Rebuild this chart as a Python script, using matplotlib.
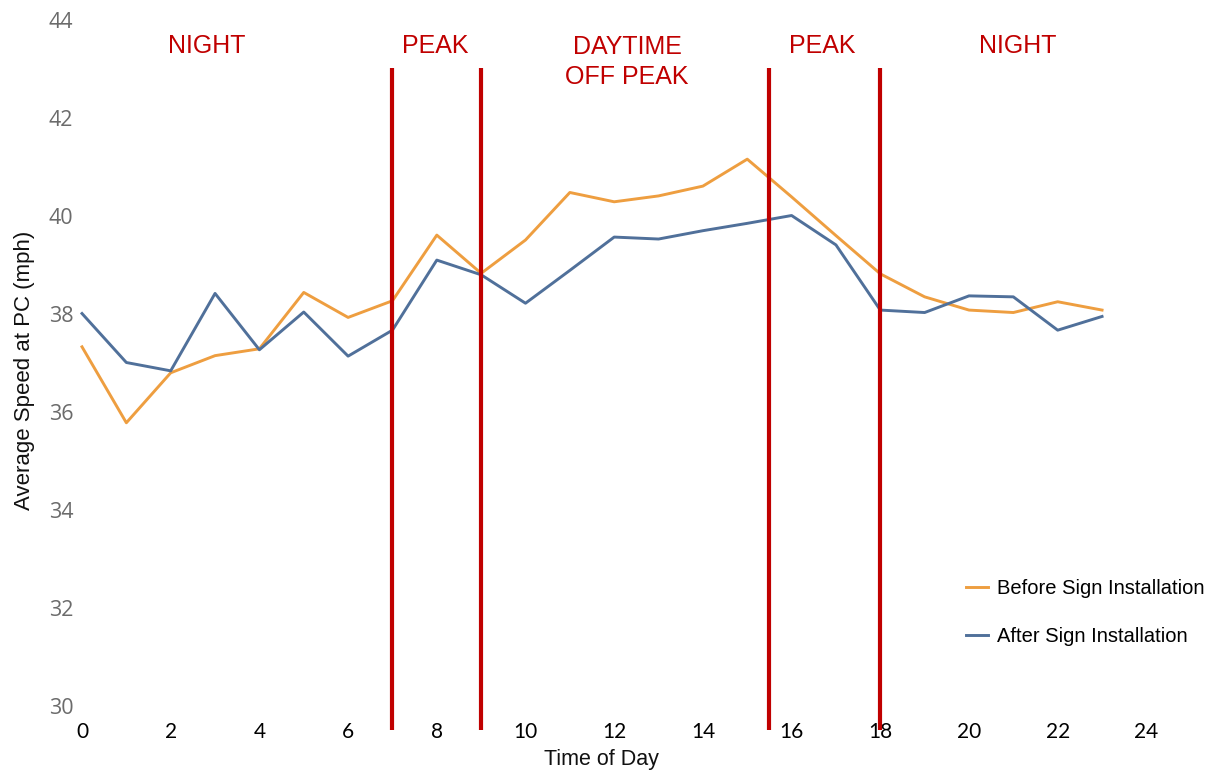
#!/usr/bin/env python3
"""
Average speed at PC by time of day, before / after sign installation.
"""
import matplotlib
matplotlib.use("Agg")
import matplotlib.pyplot as plt

# ── Data ──────────────────────────────────────────────────────────────────
hours = list(range(24))
before_speed = [37.33, 35.78, 36.80, 37.15, 37.29, 38.44, 37.93, 38.27,
                39.61, 38.83, 39.51, 40.48, 40.29, 40.41, 40.61, 41.16,
                40.39, 39.60, 38.82, 38.35, 38.08, 38.03, 38.25, 38.08]
after_speed = [38.01, 37.01, 36.84, 38.42, 37.27, 38.04, 37.14, 37.67,
               39.10, 38.80, 38.22, 38.89, 39.57, 39.53, 39.70, 39.85,
               40.01, 39.41, 38.08, 38.03, 38.37, 38.35, 37.67, 37.95]

period_bounds = [7, 9, 15.5, 18]
period_names = ["NIGHT", "PEAK", "DAYTIME\nOFF PEAK", "PEAK", "NIGHT"]
period_label_x = [2.82, 7.96, 12.29, 16.69, 21.1]

x_ticks = list(range(0, 25, 2))
y_ticks = list(range(30, 45, 2))

series_labels = ["Before Sign Installation", "After Sign Installation"]

# ── Styles ────────────────────────────────────────────────────────────────
ORANGE = "#EE9E40"
SLATE = "#50709A"
RED = "#C00000"

W, H = 1224, 774
fig = plt.figure(figsize=(W / 100, H / 100), dpi=100)
fig.patch.set_facecolor("white")

# axes placed in pixel terms: left 76, right 1200, top 10, bottom 715
ax = fig.add_axes([76 / W, 1 - 715 / H, (1200 - 76) / W, (715 - 10) / H])
ax.set_xlim((76 - 82) / 44.35, (1200 - 82) / 44.35)
ax.set_ylim(44 - 695 / 49, 44 + 10 / 49)

ax.plot(hours, before_speed, color=ORANGE, linewidth=2.1,
        label=series_labels[0], zorder=3)
ax.plot(hours, after_speed, color=SLATE, linewidth=2.1,
        label=series_labels[1], zorder=3)

ax.vlines(period_bounds, 29.51, 43.02, color=RED, linewidth=3.0,
          clip_on=False, zorder=4)

for name, xc in zip(period_names, period_label_x):
    ax.text(xc, 43.47 if "\n" not in name else 43.15, name,
            ha="center", va="center", color=RED, fontsize=18,
            family="Liberation Sans", linespacing=1.3)

# ── Axis formatting ───────────────────────────────────────────────────────
for sp in ax.spines.values():
    sp.set_visible(False)
ax.set_xticks(x_ticks)
ax.set_yticks(y_ticks)
ax.tick_params(axis="both", length=0)
ax.tick_params(axis="x", pad=5, labelsize=15, labelcolor="black")
ax.tick_params(axis="y", pad=2, labelsize=15.5, labelcolor="#6B6B6B")
for lbl in ax.get_xticklabels():
    lbl.set_family("Lato")
for lbl in ax.get_yticklabels():
    lbl.set_family("Open Sans")

# label coords: x label anchored at its top, y label at its right edge
ax.set_xlabel("Time of Day", fontsize=15.5, family="Liberation Sans",
              color="#111111")
ax.xaxis.set_label_coords((601 - 76) / (1200 - 76), -(749 - 715) / 705)
ax.set_ylabel("Average Speed at PC (mph)", fontsize=16,
              family="Liberation Sans", color="#111111")
ax.yaxis.set_label_coords(-(76 - 35) / (1200 - 76), (715 - 370) / 705)

# ── Legend ────────────────────────────────────────────────────────────────
ax.legend(loc="upper left", bbox_to_anchor=(966 / W, 1 - 579 / H),
          bbox_transform=fig.transFigure, frameon=False,
          prop={"family": "Liberation Sans", "size": 14.5},
          handlelength=1.1, handletextpad=0.45, labelspacing=1.45,
          borderpad=0, borderaxespad=0)

plt.savefig("out.png", dpi=100, facecolor=fig.get_facecolor())
plt.close(fig)
